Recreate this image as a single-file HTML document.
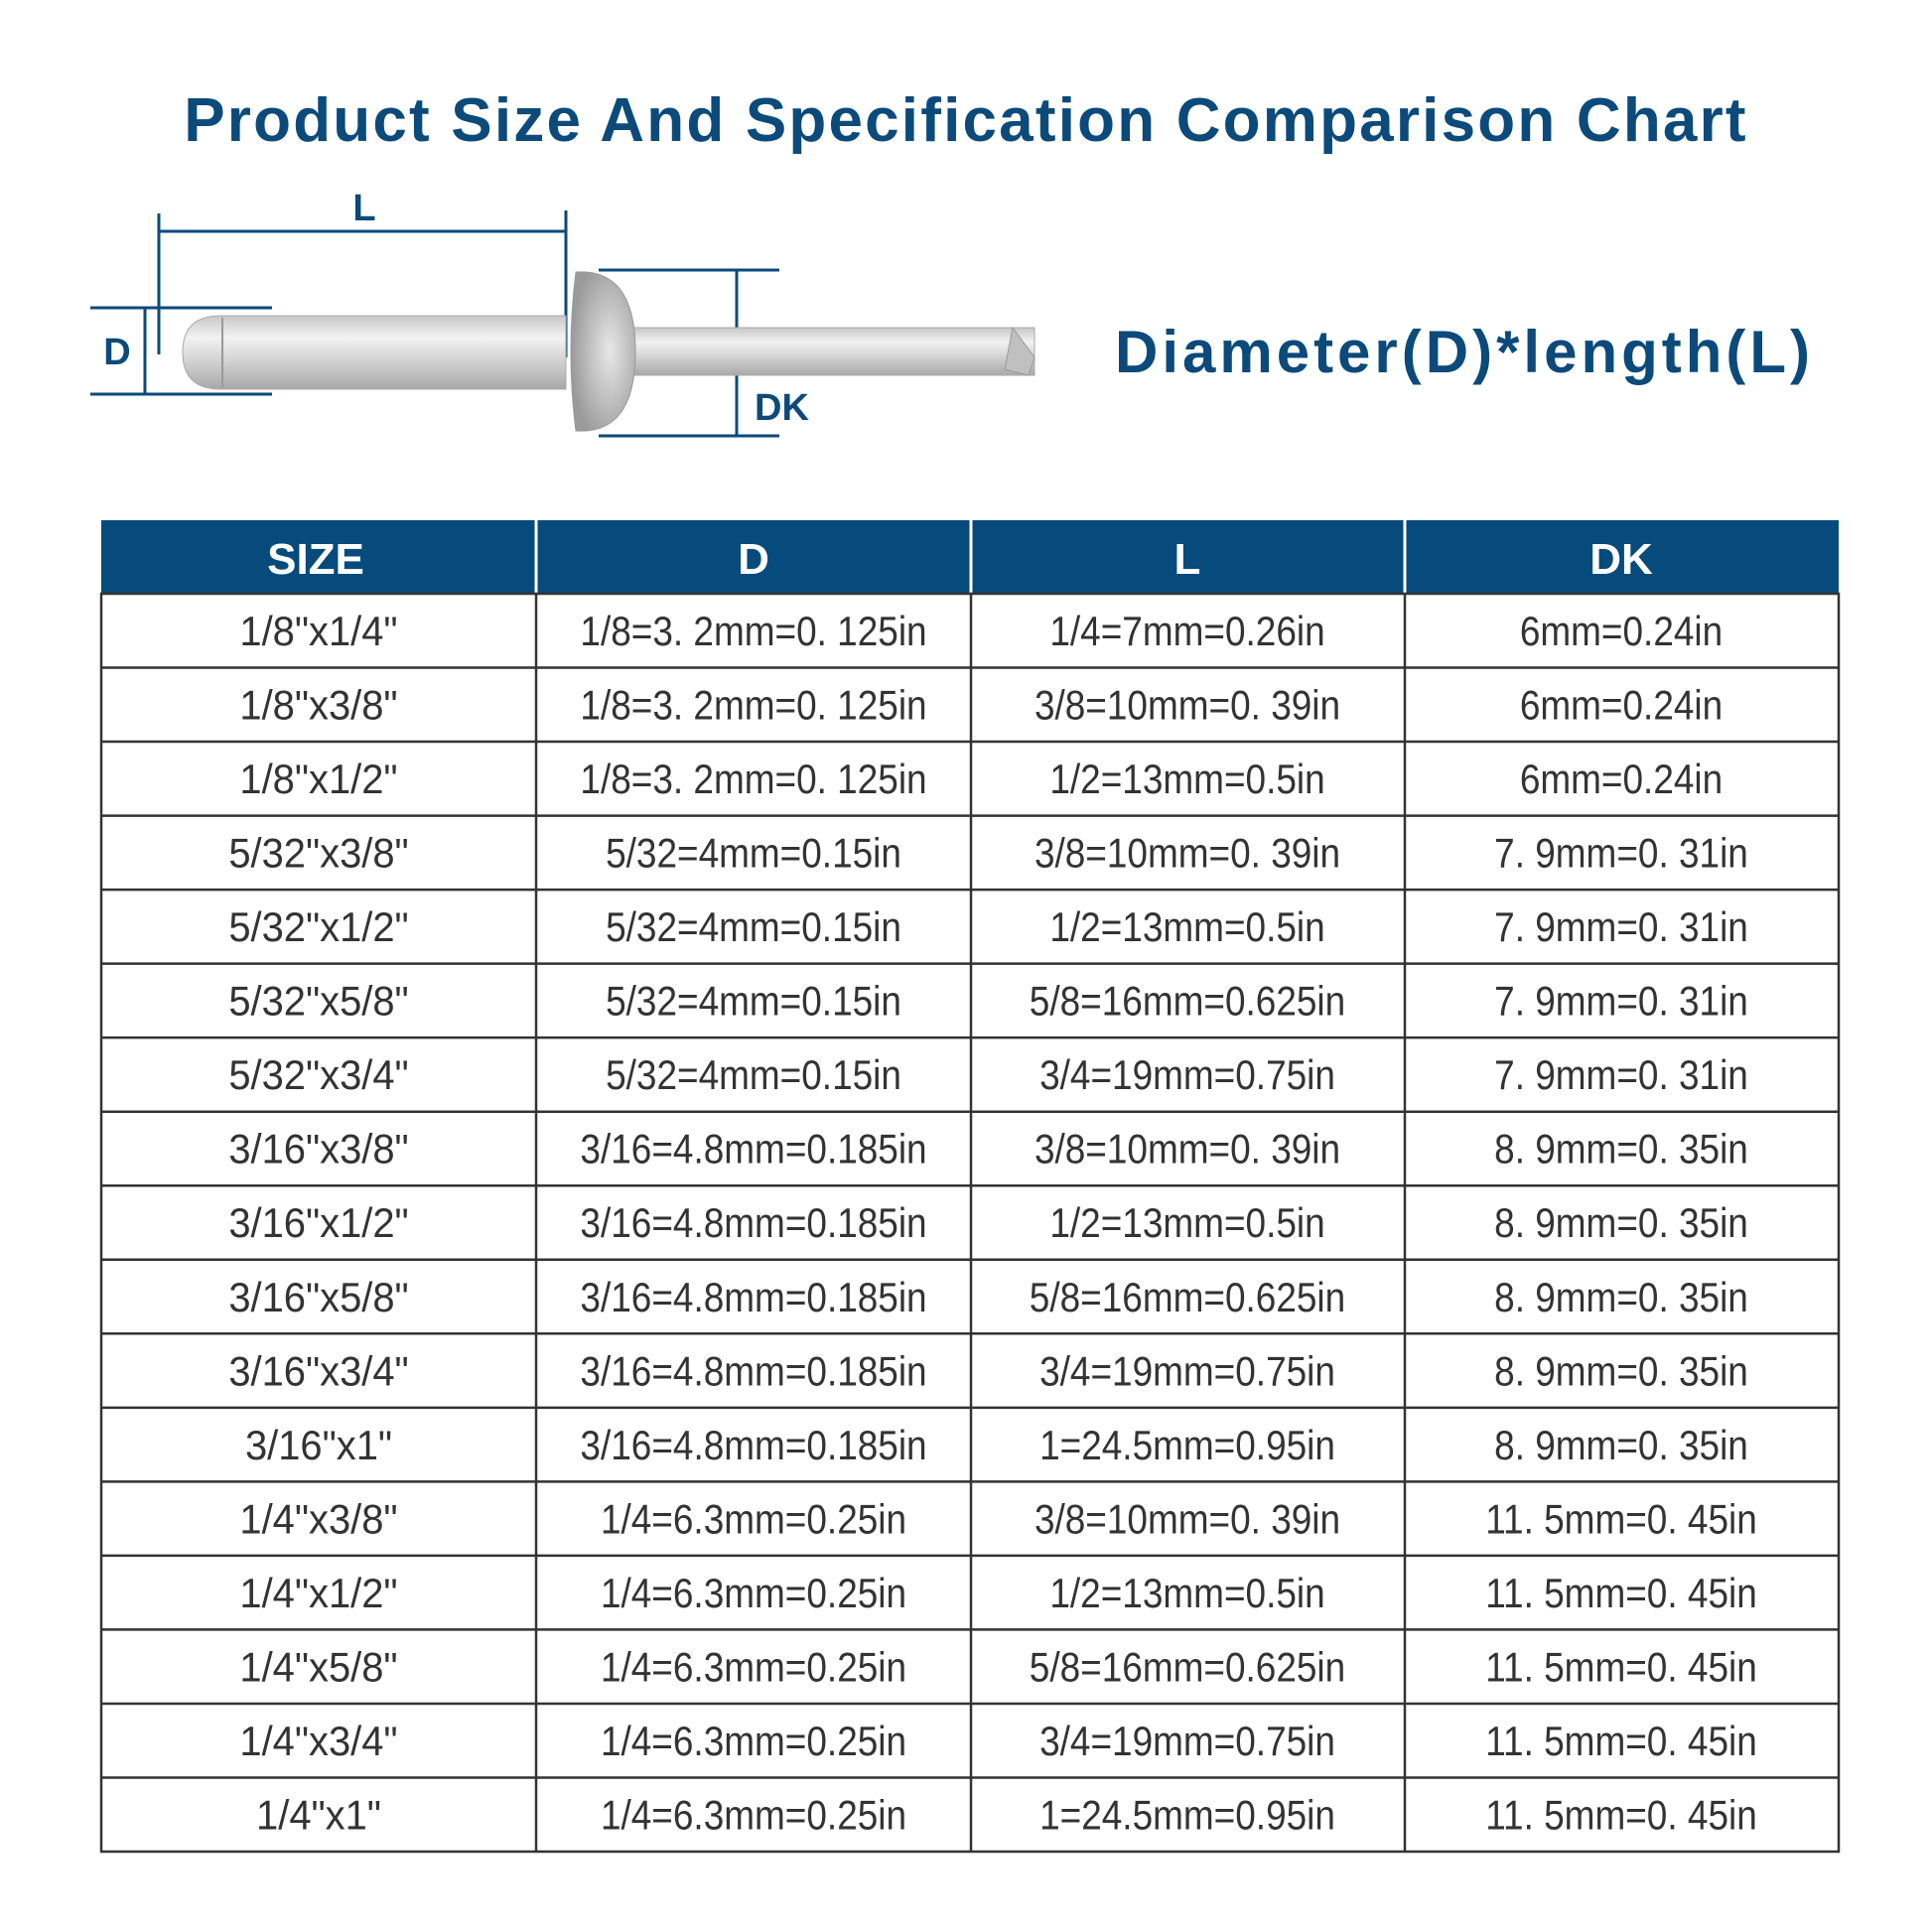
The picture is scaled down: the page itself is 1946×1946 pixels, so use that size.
<!DOCTYPE html>
<html><head><meta charset="utf-8"><style>
html,body{margin:0;padding:0;background:#fff;}
svg{display:block;}
.t{font-family:"Liberation Sans",sans-serif;font-size:42px;fill:#333;text-anchor:middle;}
.h{font-family:"Liberation Sans",sans-serif;font-weight:bold;font-size:44px;fill:#fff;text-anchor:middle;}
</style></head><body>
<svg width="1946" height="1946" viewBox="0 0 1946 1946" xmlns="http://www.w3.org/2000/svg">
<defs>
<linearGradient id="m" x1="0" y1="0" x2="0" y2="1">
<stop offset="0" stop-color="#c8c8c8"/><stop offset="0.3" stop-color="#f2f2f2"/><stop offset="0.6" stop-color="#d4d4d4"/><stop offset="1" stop-color="#a8a8a8"/>
</linearGradient>
<radialGradient id="hd" cx="0.6" cy="0.5" r="0.6">
<stop offset="0" stop-color="#e8e8e8"/><stop offset="1" stop-color="#9a9a9a"/>
</radialGradient>
</defs>
<text x="973" y="142" font-family="Liberation Sans, sans-serif" font-weight="bold" font-size="62" fill="#0b4a7a" text-anchor="middle" letter-spacing="2.2">Product Size And Specification Comparison Chart</text>
<text x="1475" y="375" font-family="Liberation Sans, sans-serif" font-weight="bold" font-size="60" fill="#0b4a7a" text-anchor="middle" letter-spacing="4">Diameter(D)*length(L)</text>
<!-- rivet -->
<g stroke="#0b4a7a" stroke-width="3" fill="none">
<line x1="160" y1="215" x2="160" y2="357"/>
<line x1="570" y1="212" x2="570" y2="360"/>
<line x1="160" y1="233" x2="570" y2="233"/>
<line x1="91" y1="310" x2="274" y2="310"/>
<line x1="91" y1="397" x2="274" y2="397"/>
<line x1="146" y1="310" x2="146" y2="397"/>
<line x1="603" y1="272" x2="785" y2="272"/>
<line x1="603" y1="439" x2="785" y2="439"/>
<line x1="742" y1="272" x2="742" y2="439"/>
</g>
<path d="M222 318 L570 318 L570 392 L222 392 Q184 392 184 355 Q184 318 222 318 Z" fill="url(#m)" stroke="#aaa"/>
<line x1="224" y1="320" x2="224" y2="390" stroke="#999" stroke-width="2"/>
<rect x="610" y="330" width="432" height="48" fill="url(#m)" stroke="#aaa"/>
<path d="M1020 330 L1042 360 L1036 378 L1012 372 Z" fill="#c0c0c0" stroke="#999"/>
<path d="M580 274 Q640 270 640 354 Q640 438 580 434 Q570 354 580 274 Z" fill="url(#hd)" stroke="#999"/>
<text x="367" y="222" font-family="Liberation Sans, sans-serif" font-weight="bold" font-size="38" fill="#0b4a7a" text-anchor="middle">L</text>
<text x="118" y="367" font-family="Liberation Sans, sans-serif" font-weight="bold" font-size="38" fill="#0b4a7a" text-anchor="middle">D</text>
<text x="760" y="423" font-family="Liberation Sans, sans-serif" font-weight="bold" font-size="38" fill="#0b4a7a">DK</text>
<!-- table -->
<rect x="102" y="524" width="1750" height="74" fill="#074a7c"/>
<g stroke="#fff" stroke-width="3"><line x1="540" y1="524" x2="540" y2="598"/><line x1="978" y1="524" x2="978" y2="598"/><line x1="1415" y1="524" x2="1415" y2="598"/></g>
<text class="h" x="318" y="578">SIZE</text><text class="h" x="759" y="578">D</text><text class="h" x="1196" y="578">L</text><text class="h" x="1633" y="578">DK</text>
<g stroke="#333" stroke-width="2.5" fill="none">
<rect x="102" y="598" width="1750" height="1267"/>
<line x1="540" y1="598" x2="540" y2="1865"/><line x1="978" y1="598" x2="978" y2="1865"/><line x1="1415" y1="598" x2="1415" y2="1865"/>
</g>
<g stroke="#333" stroke-width="2.5" id="rl"></g>
<g id="rows"></g>
<script>
var d=[["1/8\"x1/4\"","1/8=3. 2mm=0. 125in","1/4=7mm=0.26in","6mm=0.24in"],
["1/8\"x3/8\"","1/8=3. 2mm=0. 125in","3/8=10mm=0. 39in","6mm=0.24in"],
["1/8\"x1/2\"","1/8=3. 2mm=0. 125in","1/2=13mm=0.5in","6mm=0.24in"],
["5/32\"x3/8\"","5/32=4mm=0.15in","3/8=10mm=0. 39in","7. 9mm=0. 31in"],
["5/32\"x1/2\"","5/32=4mm=0.15in","1/2=13mm=0.5in","7. 9mm=0. 31in"],
["5/32\"x5/8\"","5/32=4mm=0.15in","5/8=16mm=0.625in","7. 9mm=0. 31in"],
["5/32\"x3/4\"","5/32=4mm=0.15in","3/4=19mm=0.75in","7. 9mm=0. 31in"],
["3/16\"x3/8\"","3/16=4.8mm=0.185in","3/8=10mm=0. 39in","8. 9mm=0. 35in"],
["3/16\"x1/2\"","3/16=4.8mm=0.185in","1/2=13mm=0.5in","8. 9mm=0. 35in"],
["3/16\"x5/8\"","3/16=4.8mm=0.185in","5/8=16mm=0.625in","8. 9mm=0. 35in"],
["3/16\"x3/4\"","3/16=4.8mm=0.185in","3/4=19mm=0.75in","8. 9mm=0. 35in"],
["3/16\"x1\"","3/16=4.8mm=0.185in","1=24.5mm=0.95in","8. 9mm=0. 35in"],
["1/4\"x3/8\"","1/4=6.3mm=0.25in","3/8=10mm=0. 39in","11. 5mm=0. 45in"],
["1/4\"x1/2\"","1/4=6.3mm=0.25in","1/2=13mm=0.5in","11. 5mm=0. 45in"],
["1/4\"x5/8\"","1/4=6.3mm=0.25in","5/8=16mm=0.625in","11. 5mm=0. 45in"],
["1/4\"x3/4\"","1/4=6.3mm=0.25in","3/4=19mm=0.75in","11. 5mm=0. 45in"],
["1/4\"x1\"","1/4=6.3mm=0.25in","1=24.5mm=0.95in","11. 5mm=0. 45in"]];
var ns="http://www.w3.org/2000/svg",cx=[321,759,1196,1633],rh=74.53;
var R=document.getElementById("rows"),L=document.getElementById("rl");
d.forEach(function(r,i){var y=598+i*rh;
if(i>0){var l=document.createElementNS(ns,"line");l.setAttribute("x1",102);l.setAttribute("x2",1852);l.setAttribute("y1",y);l.setAttribute("y2",y);L.appendChild(l);}
r.forEach(function(s,j){var t=document.createElementNS(ns,"text");t.setAttribute("class","t");t.setAttribute("x",0);t.setAttribute("y",0);
var sx=0.88;if(j==0){t.setAttribute("font-size","48");sx=0.95;}
t.setAttribute("transform","translate("+cx[j]+","+(y+52)+") scale("+sx+",1)");
t.textContent=s;R.appendChild(t);});});
</script>
</svg>
</body></html>
